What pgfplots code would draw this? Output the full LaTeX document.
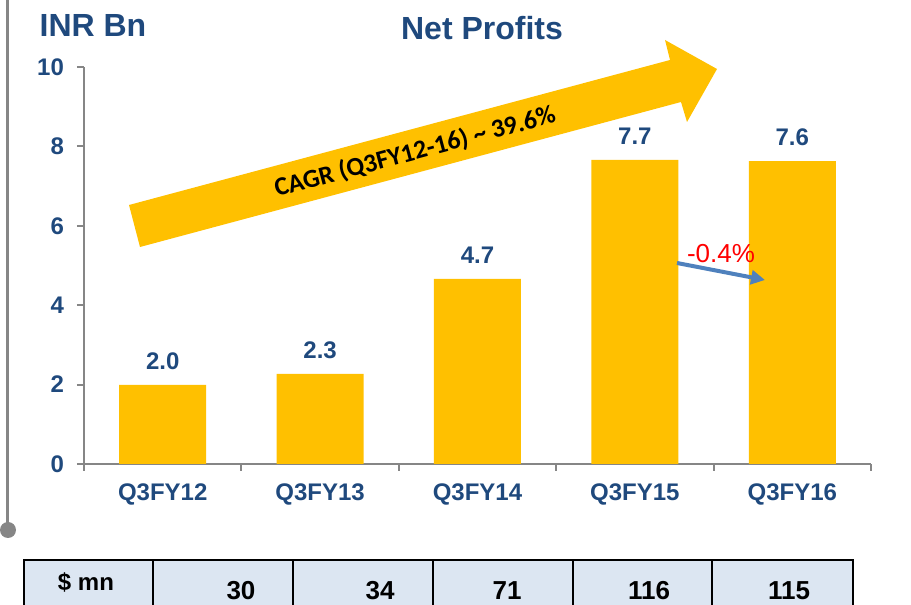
\documentclass[border=0pt]{standalone}
\usepackage{fontspec}
\setmainfont{Liberation Sans}
\newfontfamily\calibri{Carlito}
\usepackage{pgfplots}
\pgfplotsset{compat=1.18}
\usetikzlibrary{arrows.meta}

\definecolor{barcol}{HTML}{FFC000}
\definecolor{navy}{HTML}{1F497D}
\definecolor{axisgray}{HTML}{868686}
\definecolor{arrowblue}{HTML}{4F81BD}
\definecolor{cellblue}{HTML}{DCE6F2}

\begin{document}
\begin{tikzpicture}
\useasboundingbox (0,0) rectangle (455.5pt,302.5pt);
\clip (0,0) rectangle (455.5pt,302.5pt);
\begin{axis}[
    at={(42pt,70.5pt)}, anchor=south west,
    scale only axis, width=393.5pt, height=198.5pt,
    xmin=-0.5, xmax=4.5, ymin=0, ymax=10,
    axis lines*=left,
    axis line style={draw=axisgray, line width=1pt},
    tick style={draw=axisgray, line width=1pt},
    tick align=outside, major tick length=3.5pt,
    xtick={-0.5,0.5,...,4.5},
    x tick label as interval,
    xticklabels={Q3FY12,Q3FY13,Q3FY14,Q3FY15,Q3FY16},
    ytick={0,2,...,10},
    /pgf/number format/assume math mode=true,
    ticklabel style={font=\fontsize{12pt}{14pt}\selectfont\bfseries, text=navy},
    xticklabel style={yshift=-3pt},
    yticklabel style={xshift=-3pt},
    ybar, bar width=43.5pt,
    nodes near coords,
    nodes near coords style={font=\fontsize{12pt}{14pt}\selectfont\bfseries, text=navy,
        yshift=4pt, /pgf/number format/.cd, fixed, fixed zerofill, precision=1},
    clip=false,
]
\addplot[fill=barcol, draw=none] coordinates {(0,1.99) (1,2.27) (2,4.66) (3,7.66) (4,7.63)};
\end{axis}

\begin{scope}[x=0.5pt, y=0.5pt]
% titles
\node[font=\fontsize{16pt}{18pt}\selectfont\bfseries, text=navy] at (93,580) {INR Bn};
\node[font=\fontsize{16pt}{18pt}\selectfont\bfseries, text=navy] at (482,577) {Net Profits};
% left rule
\draw[axisgray, line width=1.75pt] (7.5,610) -- (7.5,75);
\fill[axisgray] (8,75) circle[radius=4pt];
% CAGR arrow
\fill[barcol] (129,400) -- (670,545) -- (665,565) -- (717,536) -- (687,483) -- (681,503) -- (140,358) -- cycle;
\node[rotate=15, font=\calibri\fontsize{13pt}{15pt}\selectfont\bfseries] at (415,453) {CAGR (Q3FY12-16) \textasciitilde{} 39.6\%};
% change arrow
\draw[arrowblue, line width=2pt, -{Triangle[length=7pt, width=7pt]}] (677,342) -- (765,325);
\node[text=red, font=\fontsize{13pt}{15pt}\selectfont] at (721,351) {-0.4\%};
% table
\fill[cellblue] (24,45) rectangle (853,-20);
\draw[black, line width=1pt] (24,-20) -- (24,45) -- (853,45) -- (853,-20);
\foreach \x in {153,293,433,573,712} \draw[black, line width=1pt] (\x,45) -- (\x,-20);
\node[font=\fontsize{12pt}{14pt}\selectfont\bfseries] at (86,23) {\$ mn};
\foreach \x/\v in {241/30,380/34,507/71,649/116,789/115}
  \node[font=\fontsize{13pt}{15pt}\selectfont\bfseries] at (\x,14) {\v};
\end{scope}
\end{tikzpicture}
\end{document}
